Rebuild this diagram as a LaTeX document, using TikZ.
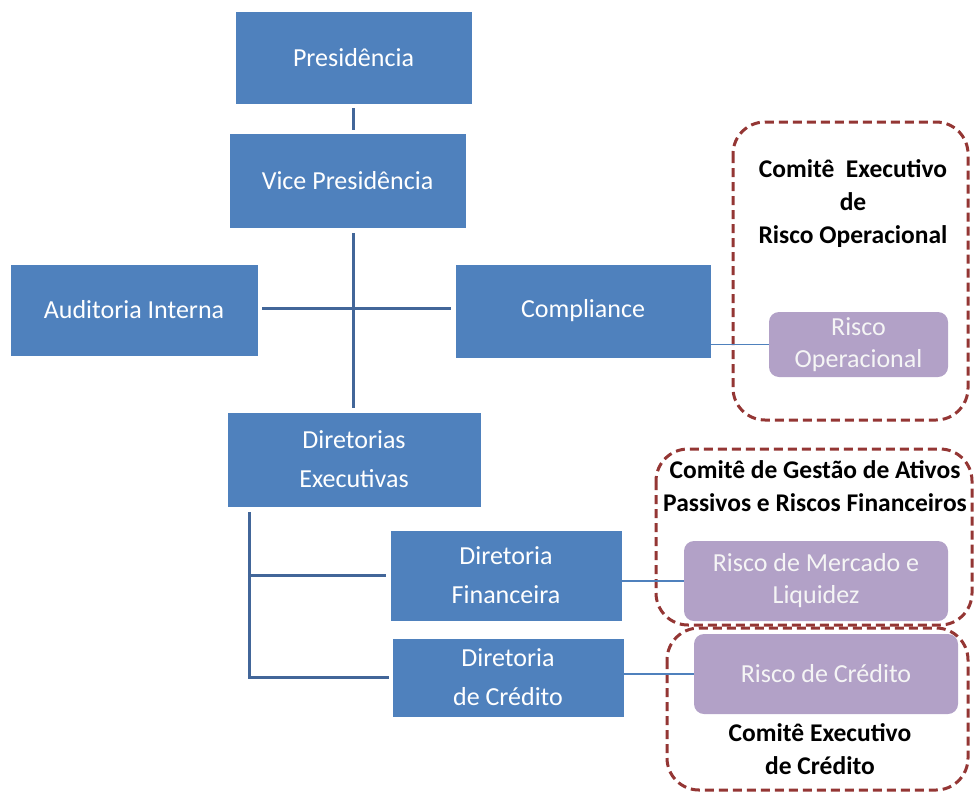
\documentclass[tikz,border=0pt]{standalone}
\usepackage{fontspec}
\setmainfont{Carlito}
\usetikzlibrary{positioning}

\newlength{\du}
\setlength{\du}{1pt}

\definecolor{boxblue}{RGB}{79,129,189}
\definecolor{linkblue}{RGB}{66,102,153}
\definecolor{riskpurple}{RGB}{178,161,199}
\definecolor{comitered}{RGB}{148,54,52}

\tikzset{
  orgbox/.style 2 args={draw=white, line width=0.8\du, fill=boxblue, text=white,
    minimum width=#1\du, minimum height=#2\du, inner sep=0pt, align=center,
    font=\fontsize{26}{39}\selectfont},
  riskbox/.style 2 args={fill=riskpurple, text=white!96!black, rounded corners=10\du,
    minimum width=#1\du, minimum height=#2\du, inner sep=0pt, align=center,
    font=\fontsize{26}{32}\selectfont},
  orgline/.style={draw=linkblue, line width=3\du},
  risklink/.style={draw=boxblue, line width=1.6\du},
  comite/.style={draw=comitered, line width=3\du, dash pattern=on 9\du off 5\du,
    rounded corners=32\du},
  comitetext/.style={font=\bfseries\fontsize{25.5}{33}\selectfont, align=center, inner sep=0pt}
}

\begin{document}
\begin{tikzpicture}
\pgftransformyscale{-1.000000}
\useasboundingbox (0,0) rectangle (976\du,795\du);

% estrutura
\node[orgbox={237}{93}] (pres) at (353.5\du,57.5\du) {Presidência};
\node[orgbox={237}{95}] (vice) at (347.5\du,180.5\du) {Vice Presidência};
\node[orgbox={248}{92}] (audit) at (134\du,310\du) {Auditoria Interna};
\node[orgbox={256}{94}] (comp) at (583\du,311\du) {Compliance};
\node[orgbox={254}{95}] (direx) at (354\du,459.5\du) {Diretorias\\Executivas};
\node[orgbox={232}{91}] (dfin) at (506\du,575.5\du) {Diretoria\\Financeira};
\node[orgbox={232}{79}] (dcred) at (508\du,677.5\du) {Diretoria\\de Crédito};

% riscos
\node[riskbox={179}{65}] (rop) at (858.5\du,344.5\du) {Risco\\Operacional};
\node[riskbox={264}{80}] (rmerc) at (816\du,581\du) {Risco de Mercado e\\Liquidez};
\node[riskbox={264}{80}] (rcred) at (826\du,674\du) {Risco de Crédito};

% comites
\draw[comite] (733\du,122\du) rectangle (968\du,420\du);
\draw[comite] (656\du,449\du) rectangle (972\du,625\du);
\draw[comite] (667\du,628\du) rectangle (968\du,790\du);
\node[comitetext] (crop) at (853\du,204\du) {Comitê~~Executivo\\de\\Risco Operacional};
\node[comitetext] (cgap) at (815\du,486\du) {Comitê de Gestão de Ativos\\Passivos e Riscos Financeiros};
\node[comitetext] (ccred) at (820\du,749\du) {Comitê Executivo\\de Crédito};

% ligacoes
\draw[orgline, shorten <=4\du, shorten >=3\du] (pres.south) -- (pres.south |- vice.north);
\draw[orgline, shorten <=5\du, shorten >=4\du] (pres.south |- vice.south) -- (pres.south |- direx.north);
\draw[orgline, shorten <=4\du, shorten >=4\du] ([yshift=-2\du]audit.east) -- ([yshift=-2\du]audit.east -| comp.west);
\coordinate (tronco) at ([xshift=23\du, yshift=5\du]direx.south west);
\draw[orgline, shorten >=4\du] (tronco) |- (dfin.west);
\draw[orgline, shorten >=3\du] (tronco) |- (dcred.west);
\draw[risklink] (comp.east |- rop.west) -- (rop.west);
\draw[risklink] (dfin.east |- rmerc.west) -- (rmerc.west);
\draw[risklink] (dcred.east |- rcred.west) -- (rcred.west);
\end{tikzpicture}
\end{document}
